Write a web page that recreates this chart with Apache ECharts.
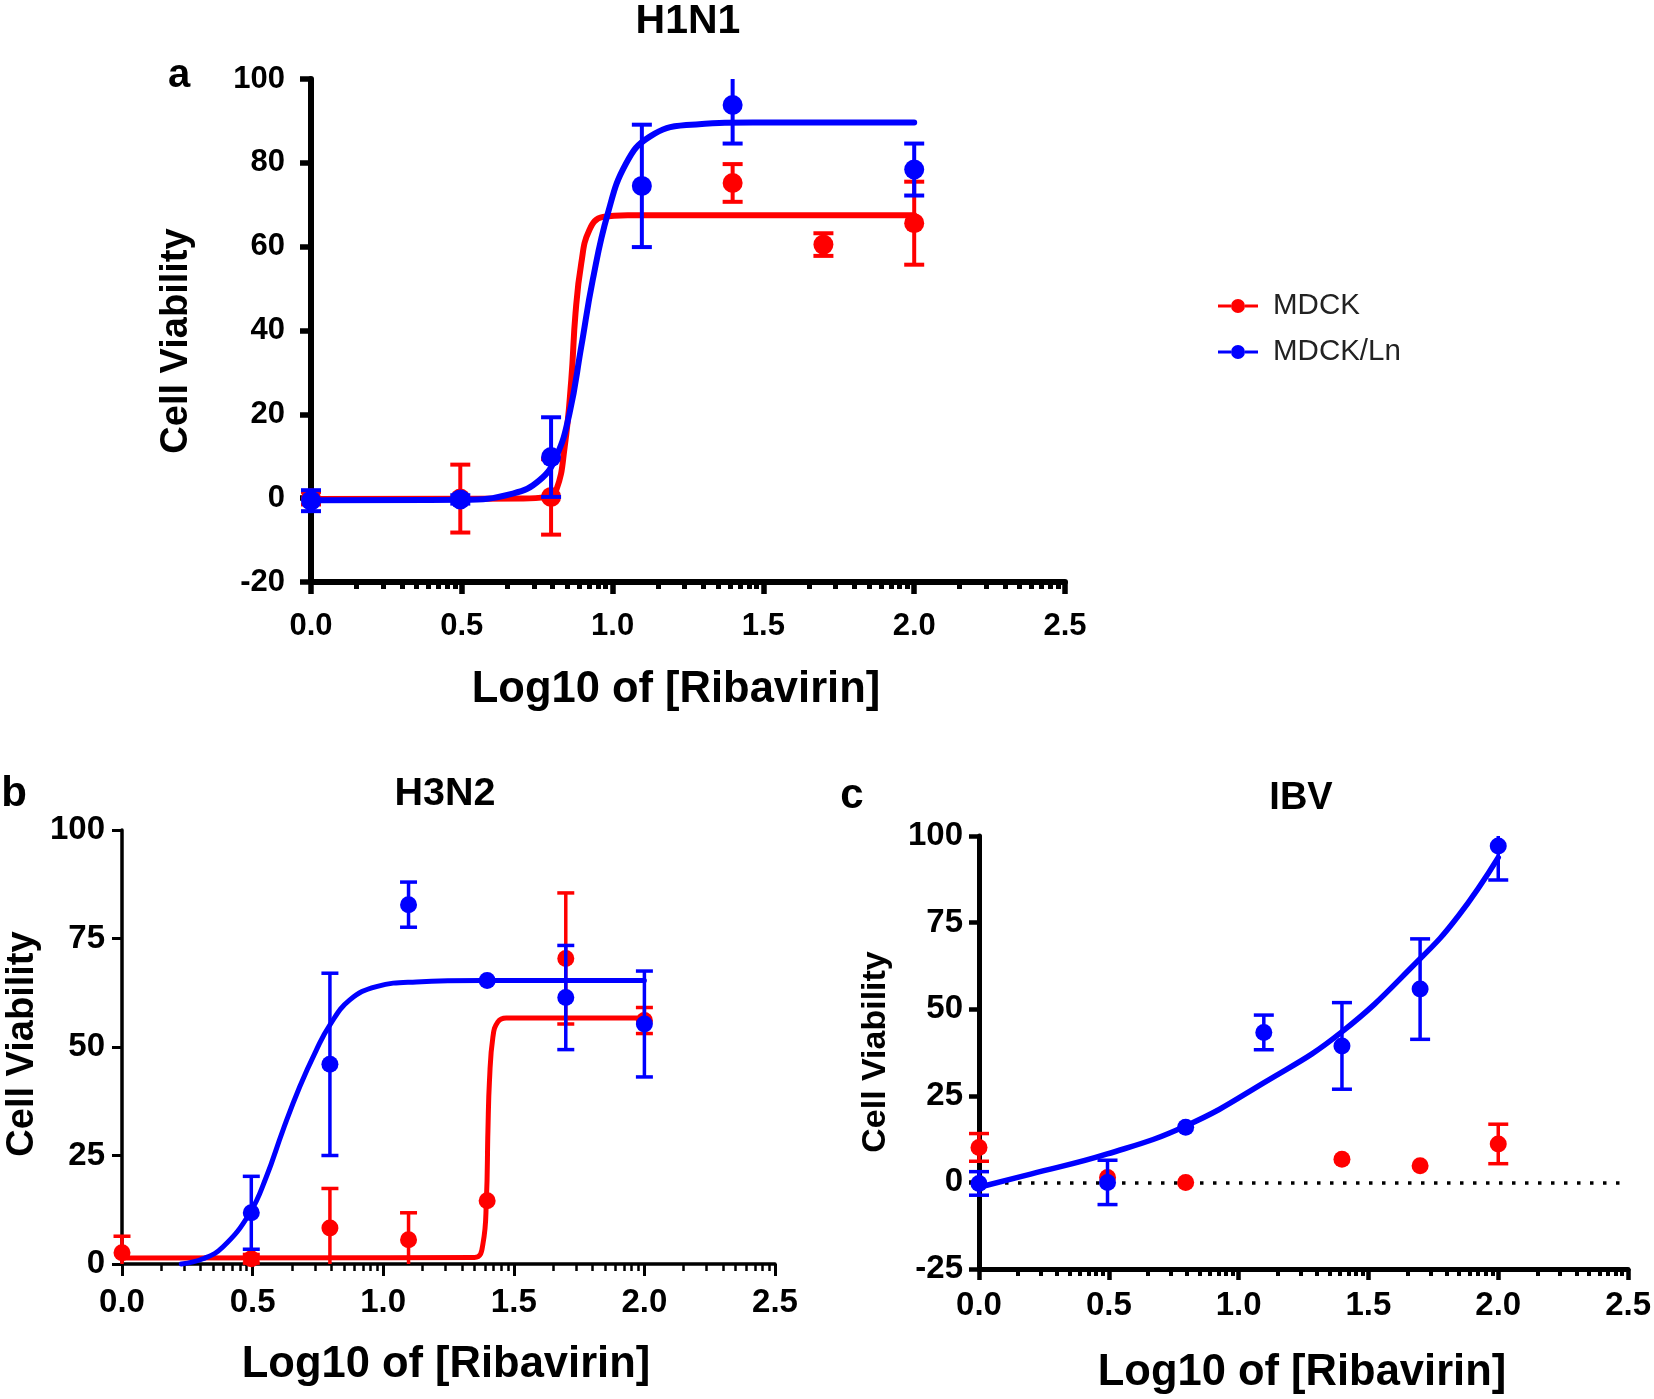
<!DOCTYPE html>
<html>
<head>
<meta charset="utf-8">
<script src="https://cdn.jsdelivr.net/npm/echarts@6/dist/echarts.min.js"></script>
<style>
html,body{margin:0;padding:0;background:#ffffff;}
#chart{width:1654px;height:1399px;}
</style>
</head>
<body>
<div id="chart"></div>
<script>
// ---------------- DATA ----------------
const seriesNames = ['MDCK', 'MDCK/Ln'];
const panelTitles = ['H1N1', 'H3N2', 'IBV'];
const panelLetters = ['a', 'b', 'c'];
const xAxisTitle = 'Log10 of [Ribavirin]';
const yAxisTitle = 'Cell Viability';
const xTickLabels = ['0.0', '0.5', '1.0', '1.5', '2.0', '2.5'];
const yTicksA = [-20, 0, 20, 40, 60, 80, 100];
const yTicksB = [0, 25, 50, 75, 100];
const yTicksC = [-25, 0, 25, 50, 75, 100];

// log10 dose positions
const doses = [0, 0.495, 0.796, 1.097, 1.398, 1.699, 2.0];

// H1N1
const h1n1MdckMean = [0, -0.1, 0.3, null, 75.2, 60.5, 65.6];
const h1n1MdckErr  = [1.5, 8.1, 9.0, null, 4.5, 2.7, 9.9];
const h1n1LnMean   = [-0.6, -0.3, 9.8, 74.5, 93.8, null, 78.4];
const h1n1LnErr    = [2.5, 1.0, 9.5, 14.6, 9.2, null, 6.2];
const h1n1MdckFitX = [0, 0.7, 0.78, 0.813, 0.841, 0.863, 0.877, 0.896, 0.923, 0.968, 1.05, 2.0];
const h1n1MdckFitY = [-0.2, -0.1, 0.3, 1.9, 12.2, 28.2, 44.1, 56.0, 64.0, 67.1, 67.5, 67.5];
const h1n1LnFitX   = [0, 0.5, 0.669, 0.758, 0.813, 0.857, 0.896, 0.934, 0.984, 1.045, 1.122, 1.244, 1.465, 2.0];
const h1n1LnFitY   = [-0.5, -0.4, 1.1, 4.3, 9.9, 20.2, 36.1, 52.0, 67.9, 79.9, 86.2, 89.0, 89.6, 89.6];

// H3N2
const h3n2MdckMean = [2.6, 1.2, 8.3, 5.6, 14.6, 70.4, 56.1];
const h3n2MdckErr  = [3.8, 1.0, 9.1, 6.2, 0, 15.1, 3.0];
const h3n2LnMean   = [null, 11.8, 46.0, 82.8, 65.3, 61.4, 55.3];
const h3n2LnErr    = [null, 8.4, 21.0, 5.2, 0, 12.0, 12.2];
const h3n2MdckFitX = [0, 1.35, 1.382, 1.395, 1.401, 1.407, 1.42, 1.439, 1.471, 2.0];
const h3n2MdckFitY = [1.4, 1.5, 4.7, 14.7, 30.8, 42.4, 52.3, 55.8, 56.7, 56.7];
const h3n2LnFitX   = [0.227, 0.31, 0.386, 0.489, 0.552, 0.616, 0.68, 0.744, 0.795, 0.871, 0.974, 1.127, 1.38, 2.0];
const h3n2LnFitY   = [0, 1.2, 3.9, 11.7, 20.0, 30.8, 40.8, 49.3, 55.0, 60.8, 63.9, 65.0, 65.3, 65.3];

// IBV
const ibvMdckMean = [10.1, 1.4, 0, null, 6.7, 4.8, 11.1];
const ibvMdckErr  = [4.0, 0, 0, null, 0, 0, 5.7];
const ibvLnMean   = [-0.3, 0, 15.9, 43.3, 39.4, 55.8, 97.1];
const ibvLnErr    = [3.4, 6.4, 0, 5.0, 12.5, 14.5, 9.8];
const ibvLnFitX   = [0, 0.199, 0.494, 0.796, 1.098, 1.395, 1.697, 1.846, 2.0];
const ibvLnFitY   = [-1.4, 2.4, 8.2, 16.3, 28.8, 43.3, 64.4, 76.9, 93.8];

// ---------------- LAYOUT / STYLE ----------------
const FONT = '"Liberation Sans", Arial, Helvetica, sans-serif';
const RED = '#ff0000';
const BLUE = '#0000ff';

const panels = [
  { grid: {left: 311, top: 79, width: 754, height: 503}, yTicks: yTicksA,
    axisW: 6, yTickLen: 11, xMajorLen: 12, xMinorLen: 7, tickFont: 31,
    xLabelMargin: 29, yLabelMargin: 26, symbolSize: 20, curveW: 6, errW: 4, capW: 20,
    title: {x: 688, y: 22, size: 41}, letter: {x: 179, y: 76, size: 40},
    yName: {x: 177, y: 341, size: 38}, xName: {x: 676, y: 690, size: 43.5},
    mdck: [h1n1MdckMean, h1n1MdckErr, h1n1MdckFitX, h1n1MdckFitY],
    ln: [h1n1LnMean, h1n1LnErr, h1n1LnFitX, h1n1LnFitY], zeroLine: false },
  { grid: {left: 122, top: 830, width: 653, height: 434}, yTicks: yTicksB,
    axisW: 3.5, yTickLen: 10, xMajorLen: 12, xMinorLen: 7, tickFont: 33,
    xLabelMargin: 22, yLabelMargin: 17, symbolSize: 17, curveW: 5, errW: 3.5, capW: 17,
    title: {x: 445, y: 794, size: 39.5}, letter: {x: 14, y: 794, size: 42},
    yName: {x: 23, y: 1044, size: 38}, xName: {x: 446, y: 1365, size: 43.5},
    mdck: [h3n2MdckMean, h3n2MdckErr, h3n2MdckFitX, h3n2MdckFitY],
    ln: [h3n2LnMean, h3n2LnErr, h3n2LnFitX, h3n2LnFitY], zeroLine: false },
  { grid: {left: 979, top: 836, width: 651, height: 433}, yTicks: yTicksC,
    axisW: 5, yTickLen: 10, xMajorLen: 11, xMinorLen: 7, tickFont: 33,
    xLabelMargin: 20, yLabelMargin: 16, symbolSize: 17, curveW: 5.5, errW: 3.5, capW: 20,
    title: {x: 1301, y: 799, size: 38}, letter: {x: 852, y: 796, size: 42},
    yName: {x: 876, y: 1052, size: 34}, xName: {x: 1302, y: 1373, size: 43.5},
    mdck: [ibvMdckMean, ibvMdckErr, null, null],
    ln: [ibvLnMean, ibvLnErr, ibvLnFitX, ibvLnFitY], zeroLine: true }
];

// minor (log-style) tick positions inside each 0.5 interval
const minorTicks = [];
for (let s = 0; s < 2.5; s += 0.5) {
  for (let k = 2; k <= 9; k++) minorTicks.push(+(s + 0.5 * Math.log10(k)).toFixed(4));
}

const grids = [], xAxes = [], yAxes = [], series = [], graphics = [];

function errorSeries(gi, P, color, means, errs, z) {
  const yMin = P.yTicks[0], yMax = P.yTicks[P.yTicks.length - 1];
  const data = [];
  doses.forEach((x, i) => {
    if (means[i] != null && errs[i] > 0) data.push([x, means[i] - errs[i], means[i] + errs[i]]);
  });
  return {
    type: 'custom', xAxisIndex: gi * 2, yAxisIndex: gi, z: z, silent: true,
    encode: {x: 0, y: [1, 2]}, data: data,
    renderItem: function (params, api) {
      const x = api.value(0), lo = api.value(1), hi = api.value(2);
      const p1 = api.coord([x, Math.max(lo, yMin)]);
      const p2 = api.coord([x, Math.min(hi, yMax)]);
      const st = {stroke: color, lineWidth: P.errW};
      const ch = [{type: 'line', shape: {x1: p1[0], y1: p1[1], x2: p2[0], y2: p2[1]}, style: st}];
      if (lo >= yMin) ch.push({type: 'line', shape: {x1: p1[0] - P.capW / 2, y1: p1[1], x2: p1[0] + P.capW / 2, y2: p1[1]}, style: st});
      if (hi <= yMax) ch.push({type: 'line', shape: {x1: p2[0] - P.capW / 2, y1: p2[1], x2: p2[0] + P.capW / 2, y2: p2[1]}, style: st});
      return {type: 'group', children: ch};
    }
  };
}

function pointSeries(gi, P, name, color, means, z) {
  const data = [];
  doses.forEach((x, i) => { if (means[i] != null) data.push([x, means[i]]); });
  return {
    type: 'scatter', name: name, xAxisIndex: gi * 2, yAxisIndex: gi, z: z, silent: true,
    symbol: 'circle', symbolSize: P.symbolSize, itemStyle: {color: color, opacity: 1},
    clip: false, data: data
  };
}

function fitSeries(gi, P, name, color, fx, fy, z) {
  return {
    type: 'line', name: name, xAxisIndex: gi * 2, yAxisIndex: gi, z: z, silent: true,
    showSymbol: false, symbol: 'none', smooth: 0.45, clip: false,
    lineStyle: {color: color, width: P.curveW, cap: 'round', join: 'round'},
    itemStyle: {color: color},
    data: fx.map((x, i) => [x, fy[i]])
  };
}

panels.forEach((P, gi) => {
  grids.push(Object.assign({containLabel: false}, P.grid));
  const yMin = P.yTicks[0], yMax = P.yTicks[P.yTicks.length - 1];
  const yInt = P.yTicks[1] - P.yTicks[0];
  xAxes.push({
    type: 'value', gridIndex: gi, position: 'bottom', min: 0, max: 2.5, interval: 0.5,
    axisLine: {show: true, onZero: false, lineStyle: {color: '#000', width: P.axisW}},
    axisTick: {show: true, inside: false, length: P.xMajorLen, lineStyle: {color: '#000', width: P.axisW - 0.5}},
    axisLabel: {show: true, margin: P.xLabelMargin, color: '#000', fontFamily: FONT, fontWeight: 'bold',
      fontSize: P.tickFont, formatter: v => xTickLabels[Math.round(v / 0.5)]},
    splitLine: {show: false}
  });
  xAxes.push({
    type: 'value', gridIndex: gi, position: 'bottom', min: 0, max: 2.5,
    axisLine: {show: false, onZero: false},
    axisTick: {show: true, inside: false, length: P.xMinorLen, customValues: minorTicks,
      lineStyle: {color: '#000', width: P.axisW - 1}},
    axisLabel: {show: false}, splitLine: {show: false}
  });
  yAxes.push({
    type: 'value', gridIndex: gi, position: 'left', min: yMin, max: yMax, interval: yInt,
    axisLine: {show: true, onZero: false, lineStyle: {color: '#000', width: P.axisW}},
    axisTick: {show: true, inside: false, length: P.yTickLen, lineStyle: {color: '#000', width: P.axisW - 0.5}},
    axisLabel: {show: true, margin: P.yLabelMargin, color: '#000', fontFamily: FONT, fontWeight: 'bold', fontSize: P.tickFont},
    splitLine: {show: false}
  });

  const [mMean, mErr, mFx, mFy] = P.mdck;
  const [lMean, lErr, lFx, lFy] = P.ln;
  const redPts = pointSeries(gi, P, seriesNames[0], RED, mMean, 4);
  if (P.zeroLine) {
    redPts.markLine = {
      silent: true, symbol: ['none', 'none'], z: 1,
      label: {show: false},
      lineStyle: {color: '#000', width: 3.5, type: [3.5, 9.5], cap: 'butt'},
      emphasis: {disabled: true},
      data: [{yAxis: 0}]
    };
  }
  series.push(errorSeries(gi, P, RED, mMean, mErr, 3));
  series.push(redPts);
  if (mFx) series.push(fitSeries(gi, P, seriesNames[0] + ' fit', RED, mFx, mFy, 5));
  series.push(errorSeries(gi, P, BLUE, lMean, lErr, 6));
  series.push(pointSeries(gi, P, seriesNames[1], BLUE, lMean, 7));
  if (lFx) series.push(fitSeries(gi, P, seriesNames[1] + ' fit', BLUE, lFx, lFy, 8));

  graphics.push({type: 'text', x: P.title.x, y: P.title.y, silent: true,
    style: {text: panelTitles[gi], fill: '#000', font: 'bold ' + P.title.size + 'px ' + FONT, align: 'center', verticalAlign: 'middle'}});
  graphics.push({type: 'text', x: P.letter.x, y: P.letter.y, silent: true,
    style: {text: panelLetters[gi], fill: '#000', font: 'bold ' + P.letter.size + 'px ' + FONT, align: 'center', verticalAlign: 'middle'}});
  graphics.push({type: 'text', x: P.xName.x, y: P.xName.y, silent: true,
    style: {text: xAxisTitle, fill: '#000', font: 'bold ' + P.xName.size + 'px ' + FONT, align: 'center', verticalAlign: 'middle'}});
  graphics.push({type: 'text', x: P.yName.x, y: P.yName.y, rotation: Math.PI / 2, silent: true,
    style: {text: yAxisTitle, fill: '#000', font: 'bold ' + P.yName.size + 'px ' + FONT, align: 'center', verticalAlign: 'middle'}});
});

const chart = echarts.init(document.getElementById('chart'), null, {renderer: 'canvas', width: 1654, height: 1399});
chart.setOption({
  animation: false,
  backgroundColor: '#ffffff',
  legend: {
    data: seriesNames, orient: 'vertical', left: 1213, top: 286, itemGap: 16,
    itemWidth: 40, itemHeight: 14, selectedMode: false,
    icon: 'path://M0,5.5L13,5.5L13,8.5L0,8.5Z M27,5.5L40,5.5L40,8.5L27,8.5Z M13,7A7,7,0,1,1,27,7A7,7,0,1,1,13,7Z',
    textStyle: {fontFamily: FONT, fontSize: 29.5, color: '#222', padding: [0, 0, 0, 10]}
  },
  grid: grids,
  xAxis: xAxes,
  yAxis: yAxes,
  series: series,
  graphic: graphics
});
</script>
</body>
</html>
